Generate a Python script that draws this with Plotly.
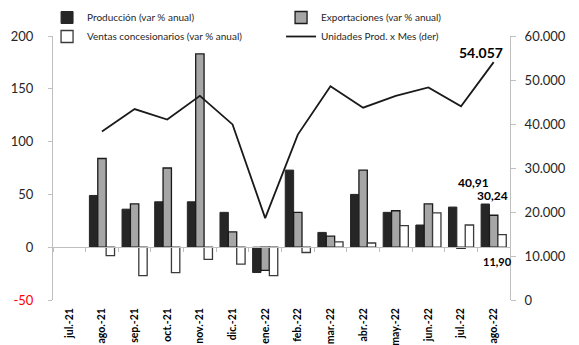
import plotly.graph_objects as go

# Monthly categories (jul.-21 has no data, kept as an empty slot on the axis)
months = ["jul.-21", "ago.-21", "sep.-21", "oct.-21", "nov.-21", "dic.-21", "ene.-22",
          "feb.-22", "mar.-22", "abr.-22", "may.-22", "jun.-22", "jul.-22", "ago.-22"]

# Year-on-year % change (left axis)
produccion = [None, 49, 36, 43, 43, 33, -24, 73, 14, 50, 33, 21, 38, 40.91]
exportaciones = [None, 84, 41, 75, 183, 14.5, -22, 33, 10.5, 73, 34.5, 41, -1, 30.24]
ventas = [None, -8, -27, -24, -11.5, -16, -27, -5, 5, 4, 20.5, 32.5, 21, 11.90]

# Units produced per month (right axis)
unidades = [None, 38300, 43400, 41000, 46400, 39900, 18600, 37600, 48600, 43700,
            46400, 48300, 44000, 54057]

FONT = "Lato"
DARK = "#262626"
AXIS_GRAY = "#BFBFBF"

fig = go.Figure()

fig.add_trace(go.Bar(
    x=months, y=produccion, name="Producción (var % anual)",
    marker=dict(color=DARK, line=dict(color=DARK, width=1)),
))
fig.add_trace(go.Bar(
    x=months, y=exportaciones, name="Exportaciones (var % anual)",
    marker=dict(color="#A6A6A6", line=dict(color="#1a1a1a", width=1.3)),
))
fig.add_trace(go.Bar(
    x=months, y=ventas, name="Ventas concesionarios (var % anual)",
    marker=dict(color="#FFFFFF", line=dict(color="#3a3a3a", width=1.3)),
))
fig.add_trace(go.Scatter(
    x=months, y=unidades, name="Unidades Prod. x Mes (der)",
    mode="lines", line=dict(color="#1a1a1a", width=1.8),
    xaxis="x2", yaxis="y2",
))

# Value labels for the latest month
last = months[-1]
fig.add_annotation(x=last, y=unidades[-1], xref="x2", yref="y2",
                   text="<b>54.057</b>", showarrow=False, xshift=-13, yshift=10,
                   font=dict(size=14, color="#000000", family=FONT))
fig.add_annotation(x=last, y=produccion[-1], xref="x", yref="y",
                   text="<b>40,91</b>", showarrow=False, xshift=-20, yshift=22,
                   font=dict(size=12, color="#000000", family=FONT))
fig.add_annotation(x=last, y=exportaciones[-1], xref="x", yref="y",
                   text="<b>30,24</b>", showarrow=False, xshift=-1, yshift=20,
                   font=dict(size=12, color="#000000", family=FONT))
fig.add_annotation(x=last, y=0, xref="x", yref="y",
                   text="<b>11,90</b>", showarrow=False, xshift=4, yshift=-14,
                   font=dict(size=11, color="#000000", family=FONT))

cat_range = [-0.5, len(months) - 0.5]

fig.update_layout(
    width=579, height=345,
    margin=dict(l=53, r=69, t=36, b=45, autoexpand=False),
    paper_bgcolor="white", plot_bgcolor="white",
    font=dict(family=FONT, size=13, color="#262626"),
    separators=",.",
    barmode="group", bargap=0.23, bargroupgap=0,
    showlegend=True,
    legend=dict(
        orientation="h", x=-0.013, xanchor="left", y=1.125, yanchor="top",
        entrywidth=189, entrywidthmode="pixels",
        font=dict(size=10, family=FONT, color="#262626"),
        bgcolor="rgba(0,0,0,0)", traceorder="normal",
    ),
    xaxis=dict(
        type="category", categoryorder="array", categoryarray=months,
        range=cat_range, showline=False, ticks="", showgrid=False, zeroline=False,
        tickangle=-90, ticklabelstandoff=5, automargin=False,
        tickfont=dict(size=10.5, family=FONT, color="#000000", weight="bold"),
    ),
    # zero reference line with category boundary ticks
    xaxis2=dict(
        type="category", categoryorder="array", categoryarray=months,
        range=cat_range, overlaying="x", anchor="free", position=0.2,
        showline=True, linecolor=AXIS_GRAY, linewidth=1,
        ticks="outside", tickson="boundaries", ticklen=4, tickcolor=AXIS_GRAY,
        showticklabels=False, showgrid=False, zeroline=False,
    ),
    yaxis=dict(
        range=[-50, 200], tickvals=[-50, 0, 50, 100, 150, 200],
        ticktext=['<span style="color:#FF0000">-50</span>', "0", "50", "100", "150", "200"],
        showline=True, linecolor=AXIS_GRAY, linewidth=1,
        ticks="outside", ticklen=4, tickcolor=AXIS_GRAY,
        showgrid=False, zeroline=False, ticklabelstandoff=12, automargin=False,
        tickfont=dict(size=13, family=FONT, color="#262626"),
    ),
    yaxis2=dict(
        range=[0, 60000], dtick=10000, tickformat=",", overlaying="y", side="right",
        anchor="x", showline=True, linecolor=AXIS_GRAY, linewidth=1,
        ticks="outside", ticklen=5, tickcolor=AXIS_GRAY,
        showgrid=False, zeroline=False, ticklabelstandoff=6, automargin=False,
        tickfont=dict(size=13, family=FONT, color="#262626"),
    ),
)

fig.write_html("out.html", config={"displayModeBar": False})
